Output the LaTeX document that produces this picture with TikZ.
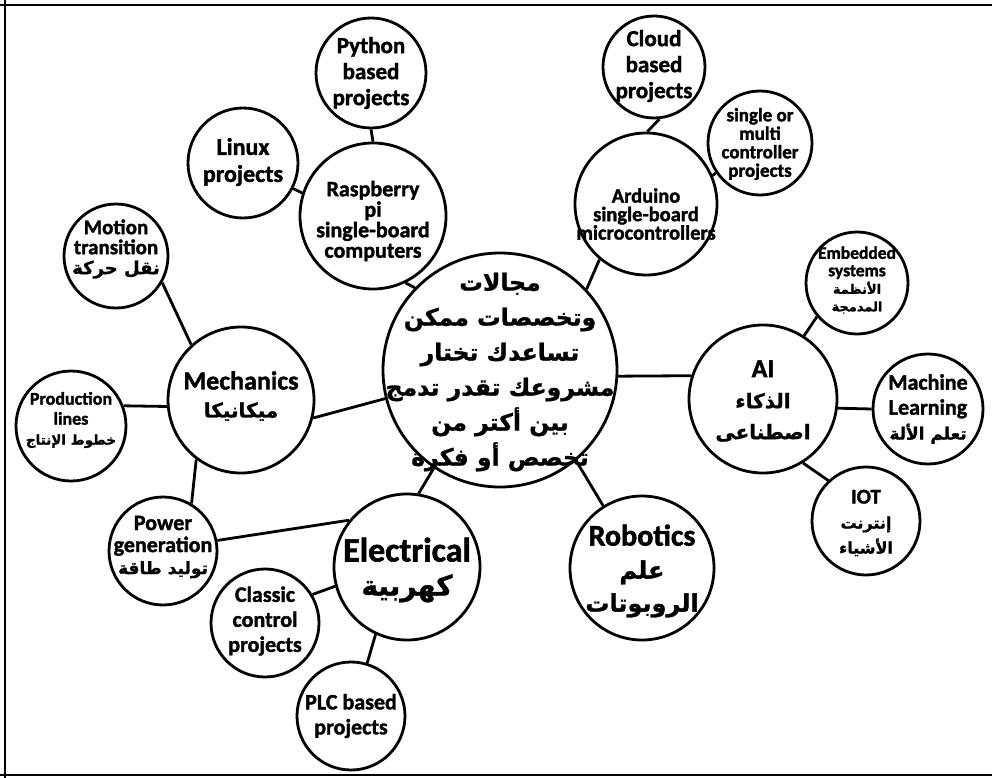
\documentclass[tikz,border=0pt]{standalone}
\usepackage{fontspec}
\newfontfamily\lat{Carlito}[BoldFeatures={FakeBold=1.6}]
\newfontfamily\ar[Script=Arabic]{DejaVu Sans}[BoldFeatures={FakeBold=1.2}]
\TeXXeTstate=1
\newcommand\fs[2]{\fontsize{#1}{#2}\selectfont}
\newcommand\AR[1]{{\ar\bfseries\beginR #1\endR}}
\begin{document}
\begin{tikzpicture}[x=1pt,y=-1pt,
  bub/.style={circle,draw,line width=2.8pt,minimum size=#1,inner sep=0pt},
  lnk/.style={line width=2.8pt},
  txt/.style={align=center,inner sep=0pt,font=\lat\bfseries}]
\useasboundingbox (0,0) rectangle (992,778);
\draw[line width=2.2pt] (0,5) -- (992,5);
\draw[line width=2.2pt] (5,0) -- (5,778);
\draw[line width=2.2pt] (0,775) -- (992,775);

% circles
\node[bub=234pt] (c) at (500,370) {};
\node[bub=146pt] (rp) at (373,216) {};
\node[bub=110pt] (py) at (371,73) {};
\node[bub=110pt] (lx) at (243,163) {};
\node[bub=142pt] (ard) at (646,204) {};
\node[bub=102pt] (cl) at (654,67) {};
\node[bub=104pt] (sm) at (760,143) {};
\node[bub=148pt] (ai) at (763,399) {};
\node[bub=102pt] (emb) at (857,283) {};
\node[bub=110pt] (ml) at (928,409) {};
\node[bub=108pt] (iot) at (866,521) {};
\node[bub=144pt] (rob) at (642,568) {};
\node[bub=146pt] (el) at (407,567) {};
\node[bub=108pt] (cls) at (265,623) {};
\node[bub=108pt] (plc) at (351,716) {};
\node[bub=108pt] (pw) at (163,551) {};
\node[bub=146pt] (mech) at (241,400) {};
\node[bub=104pt] (mo) at (116,256) {};
\node[bub=110pt] (pr) at (71,426) {};

% connectors
\draw[lnk] (py.-90) -- (rp.90);
\draw[lnk] (lx.-27) -- (rp.162);
\draw[lnk] (rp.-64) -- (c.136);
\draw[lnk] (cl.-84) -- (ard.89);
\draw[lnk] (sm.214) -- (ard.23);
\draw[lnk] (ard.230) -- (c.43);
\draw[lnk] (ai.162) -- (c.-3);
\draw[lnk] (emb.220) -- (ai.57);
\draw[lnk] (ml.180) -- (ai.-7);
\draw[lnk] (iot.133) -- (ai.-58);
\draw[lnk] (rob.122) -- (c.-50);
\draw[lnk] (el.81) -- (c.236);
\draw[lnk] (cls.31) -- (el.195);
\draw[lnk] (plc.73) -- (el.245);
\draw[lnk] (pw.11) -- (el.141);
\draw[lnk] (pw.59) -- (mech.233);
\draw[lnk] (mech.-14) -- (c.194);
\draw[lnk] (mo.-30) -- (mech.132);
\draw[lnk] (pr.21) -- (mech.185);

% texts
\node[txt,font=\ar\bfseries\fs{23.5}{35}] (c-t) at (500,372)
  {\beginR مجالات\endR\\ \beginR وتخصصات ممكن\endR\\ \beginR تساعدك تختار\endR\\
   \beginR مشروعك تقدر تدمج\endR\\ \beginR بين أكتر من\endR\\ \beginR تخصص أو فكرة\endR};
\node[txt,font=\lat\bfseries\fs{22}{20.5}] (rp-t) at (373,221) {Raspberry\\pi\\single-board\\computers};
\node[txt,font=\lat\bfseries\fs{23}{26}] (py-t) at (371,73) {Python\\based\\projects};
\node[txt,font=\lat\bfseries\fs{24}{27}] (lx-t) at (243,162) {Linux\\projects};
\node[txt,font=\lat\bfseries\fs{20.5}{18.5}] (ard-t) at (646,214) {Arduino\\single-board\\microcontrollers};
\node[txt,font=\lat\bfseries\fs{23}{26}] (cl-t) at (654,66) {Cloud\\based\\projects};
\node[txt,font=\lat\bfseries\fs{19}{18.5}] (sm-t) at (760,144) {single or\\multi\\controller\\projects};
\node[txt,font=\lat\bfseries\fs{26}{31}] (ai-t) at (763,401) {AI\\ {\fs{20}{31}\AR{الذكاء}}\\ {\fs{20}{31}\AR{اصطناعى}}};
\node[txt,font=\lat\bfseries\fs{17.5}{17.5}] (emb-t) at (857,280) {Embedded\\systems\\ {\fs{13}{17.5}\AR{الأنظمة}}\\ {\fs{13}{17.5}\AR{المدمجة}}};
\node[txt,font=\lat\bfseries\fs{22}{25}] (ml-t) at (928,409) {Machine\\Learning\\ {\fs{17}{25}\AR{تعلم الألة}}};
\node[txt,font=\lat\bfseries\fs{21}{25}] (iot-t) at (866,523) {IOT\\ {\fs{16}{25}\AR{إنترنت}}\\ {\fs{16}{25}\AR{الأشياء}}};
\node[txt,font=\lat\bfseries\fs{30}{33}] (rob-t) at (642,571) {Robotics\\ {\fs{24}{33}\AR{علم}}\\ {\fs{24}{33}\AR{الروبوتات}}};
\node[txt,font=\lat\bfseries\fs{34}{34}] (el-t) at (407,570) {Electrical\\ {\fs{28}{34}\AR{كهربية}}};
\node[txt,font=\lat\bfseries\fs{22}{25}] (cls-t) at (265,621) {Classic\\control\\projects};
\node[txt,font=\lat\bfseries\fs{22}{25}] (plc-t) at (351,716) {PLC based\\projects};
\node[txt,font=\lat\bfseries\fs{22}{22}] (pw-t) at (163,547) {Power\\generation\\ {\fs{17}{22}\AR{توليد طاقة}}};
\node[txt,font=\lat\bfseries\fs{26}{28}] (mech-t) at (241,396) {Mechanics\\ {\fs{20}{28}\AR{ميكانيكا}}};
\node[txt,font=\lat\bfseries\fs{21}{20}] (mo-t) at (116,249) {Motion\\transition\\ {\fs{18}{20}\AR{نقل حركة}}};
\node[txt,font=\lat\bfseries\fs{18}{20}] (pr-t) at (71,420) {Production\\lines\\ {\fs{13.5}{20}\AR{خطوط الإنتاج}}};
\end{tikzpicture}
\end{document}
